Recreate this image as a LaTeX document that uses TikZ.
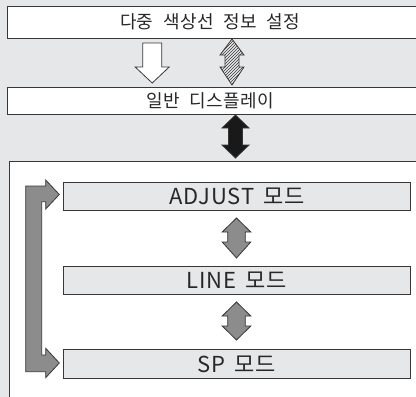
\documentclass[tikz,border=0pt]{standalone}
\usepackage{fontspec}
\usetikzlibrary{patterns}
\newfontfamily\krfont[LetterSpace=2,WordSpace=2.2]{Noto Sans CJK KR}
\newfontfamily\krmode[LetterSpace=4,WordSpace=1.5]{Noto Sans CJK KR}
\definecolor{bggray}{RGB}{230,231,232}
\definecolor{edge}{RGB}{55,55,55}
\definecolor{arrowgray}{RGB}{140,140,140}
\definecolor{txt}{RGB}{40,40,40}
\tikzset{
  bar/.style={draw=edge, line width=1.2pt, fill=white, inner sep=0pt, anchor=north west},
  bartext/.style={text=txt, font=\krfont\fontsize{18}{20}\selectfont},
  modebox/.style={draw=edge, line width=1.2pt, fill=bggray, inner sep=0pt, anchor=north west,
    minimum width=346.5pt, minimum height=28pt, text=txt, font=\krmode\fontsize{22}{24}\selectfont},
  blkarrow/.style={draw=edge, line width=0.8pt, line join=miter},
}
\newcommand\dblarr[8]{% style, cx, ytop, ybase1, ybase2, ybot, shafthalf, headhalf
  \draw[#1] (#2,#3) -- (#2+#8,#4) -- (#2+#7,#4) -- (#2+#7,#5) -- (#2+#8,#5) -- (#2,#6)
    -- (#2-#8,#5) -- (#2-#7,#5) -- (#2-#7,#4) -- (#2-#8,#4) -- cycle;}
\begin{document}
\begin{tikzpicture}[x=1pt,y=-1pt]
\useasboundingbox (0,0) rectangle (416,397);
\clip (0,0) rectangle (416,397);
\fill[bggray] (0,0) rectangle (416,397);
% top boxes
\node[bar, minimum width=413.5pt, minimum height=32pt] (top) at (6.5,6) {};
\node[bartext] (toptxt) at (210,22) {다중 색상선 정보 설정};
\node[bar, minimum width=413.5pt, minimum height=27pt] (disp) at (6.5,87) {};
\node[bartext] (disptxt) at (210,100.5) {일반 디스플레이};
% panel
\node[draw=edge, line width=1.2pt, fill=white, anchor=north west, minimum width=420pt, minimum height=250pt, inner sep=0pt] (panel) at (8.5,161) {};
% mode boxes
\node[modebox] (adj) at (63,182) {ADJUST 모드};
\node[modebox] (line) at (63,266) {LINE 모드};
\node[modebox, minimum height=29pt] (sp) at (63,349) {SP 모드};
% white single arrow
\draw[blkarrow, fill=white] (142.7,43) -- (161.7,43) -- (161.7,67) -- (169.2,67) -- (152.2,83)
  -- (135.2,67) -- (142.7,67) -- cycle;
% hatched double arrow
\dblarr{blkarrow, pattern=north east lines, pattern color=edge}{232}{39}{55}{67}{85}{7}{12}
% black double arrow
\dblarr{blkarrow, fill=black!90}{235.5}{115}{128}{145}{158}{7}{13.5}
% gray double arrows
\dblarr{blkarrow, fill=arrowgray}{236.5}{218}{232}{242}{258}{8.8}{14.3}
\dblarr{blkarrow, fill=arrowgray}{236.5}{302}{316}{326}{340}{8.8}{14.3}
% loop arrow
\draw[blkarrow, fill=arrowgray] (25.7,186) -- (45.7,186) -- (45.7,180) -- (59.3,194.5)
  -- (45.7,209) -- (45.7,201.7) -- (41.7,201.7) -- (41.7,355) -- (45.7,355) -- (45.7,348.3)
  -- (59.3,363) -- (45.7,377.7) -- (45.7,371.7) -- (25.7,371.7) -- cycle;
\end{tikzpicture}
\end{document}
